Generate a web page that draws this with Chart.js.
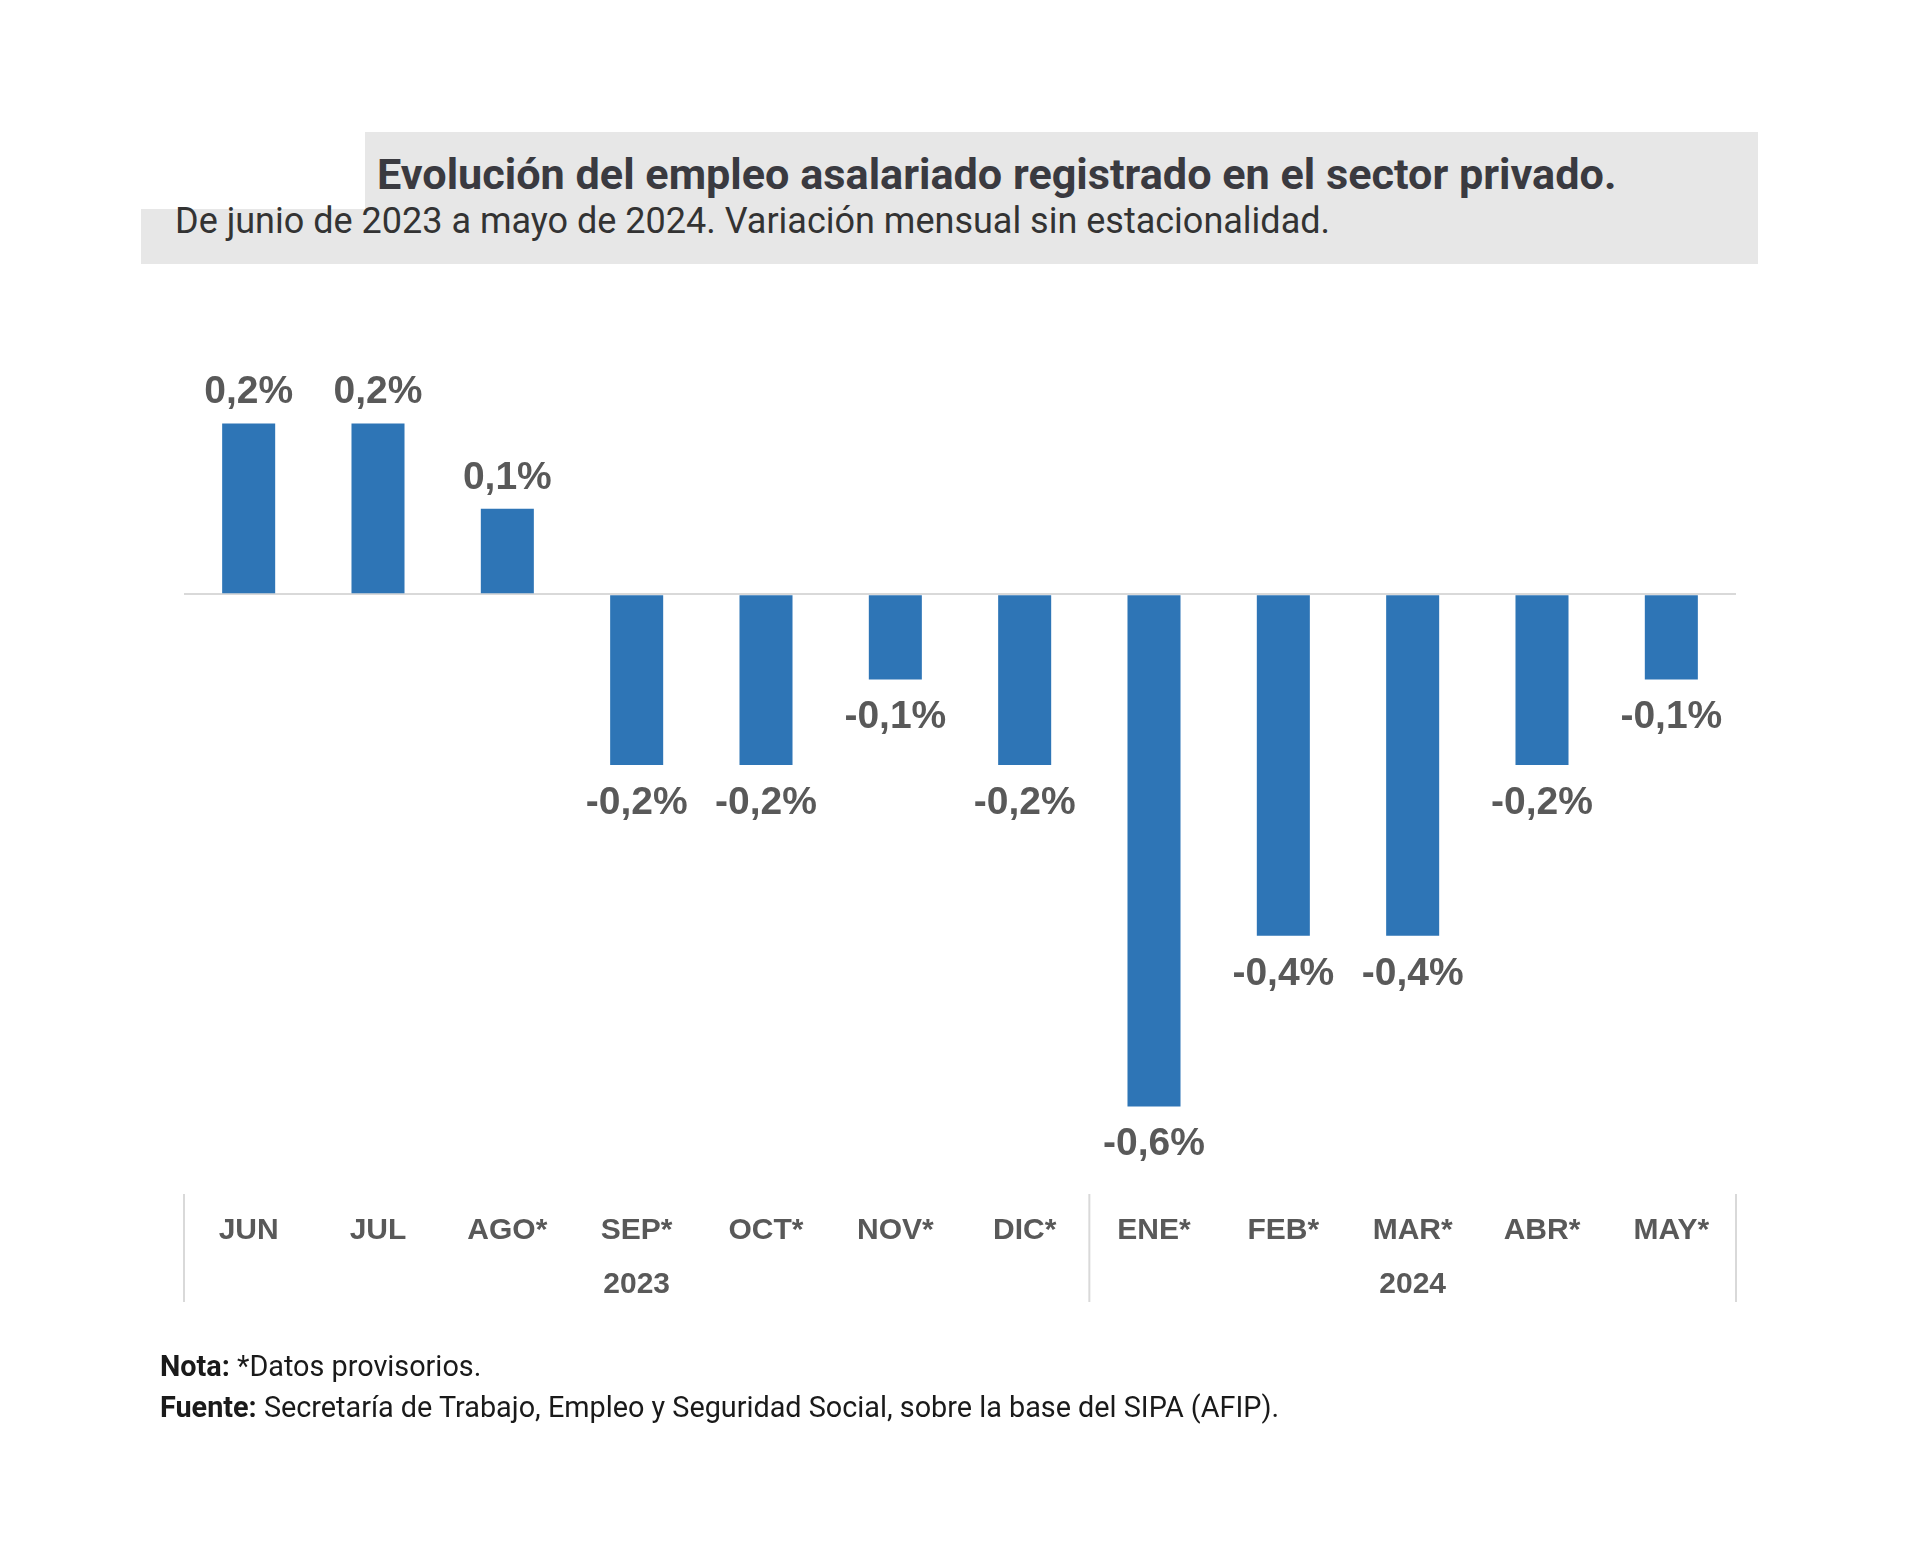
<!DOCTYPE html>
<html>
<head>
<meta charset="utf-8">
<script src="https://cdn.jsdelivr.net/npm/chart.js@4/dist/chart.umd.min.js"></script>
<style>
    body { margin: 0; background: #fff; }
    #pagina { position: relative; width: 1920px; height: 1547px; overflow: hidden; }
    .caja { position: absolute; background: #e7e7e7; }
    .texto { position: absolute; white-space: nowrap; font-family: Roboto, sans-serif; line-height: 1; }
    #grafico { position: absolute; left: 0; top: 0; }
</style>
</head>
<body>
<div id="pagina">
    <div class="caja" style="left:365px; top:132px; width:1393px; height:132px;"></div>
    <div class="caja" style="left:141px; top:209px; width:230px; height:55px;"></div>
    <div class="texto" id="titulo" style="left:377px; top:153px; font-size:43.2px; font-weight:700; color:#3a3a40;">Evolución del empleo asalariado registrado en el sector privado.</div>
    <div class="texto" id="subtitulo" style="left:175px; top:203px; font-size:36px; color:#333;">De junio de 2023 a mayo de 2024. Variación mensual sin estacionalidad.</div>
    <canvas id="grafico" width="1920" height="1547"></canvas>
    <div class="texto" style="left:160px; top:1352px; font-size:28.8px; color:#1a1a1a;"><b>Nota:</b> *Datos provisorios.</div>
    <div class="texto" style="left:160px; top:1393px; font-size:28.8px; color:#1a1a1a;"><b>Fuente:</b> Secretaría de Trabajo, Empleo y Seguridad Social, sobre la base del SIPA (AFIP).</div>
</div>
<script>
var meses = ['JUN', 'JUL', 'AGO*', 'SEP*', 'OCT*', 'NOV*', 'DIC*', 'ENE*', 'FEB*', 'MAR*', 'ABR*', 'MAY*']
var variacion = [0.2, 0.2, 0.1, -0.2, -0.2, -0.1, -0.2, -0.6, -0.4, -0.4, -0.2, -0.1]
var anios = ['2023', '2024']
var inicioAnio = [0, 7]
var finAnio = [6, 11]

var corBarra = '#2E75B6'
var corTexto = '#595959'
var corLinha = '#d9d9d9'
var fonteEixo = '"Liberation Sans", Arial, sans-serif'

function formatarValor(v){
    return v.toFixed(1).replace('.', ',') + '%'
}

var pluginRotulos = {
    id: 'rotulos',
    afterDatasetsDraw: function(chart){
        var ctx = chart.ctx
        var meta = chart.getDatasetMeta(0)
        ctx.save()
        ctx.font = 'bold 39px ' + fonteEixo
        ctx.fillStyle = corTexto
        ctx.textAlign = 'center'
        ctx.textBaseline = 'middle'
        meta.data.forEach(function(barra, i){
            var v = variacion[i]
            var y = v >= 0 ? barra.y - 31 : barra.y + 38
            ctx.fillText(formatarValor(v), barra.x, y)
        })
        ctx.restore()
    },
    afterDraw: function(chart){
        var ctx = chart.ctx
        var x = chart.scales.x
        var topo = chart.chartArea.bottom + 2
        var baixo = x.bottom
        var separadores = [x.left, (x.getPixelForValue(6) + x.getPixelForValue(7)) / 2, x.right]
        ctx.save()
        ctx.strokeStyle = corLinha
        ctx.lineWidth = 2
        separadores.forEach(function(px){
            ctx.beginPath()
            ctx.moveTo(px, topo)
            ctx.lineTo(px, baixo)
            ctx.stroke()
        })
        ctx.font = 'bold 30px ' + fonteEixo
        ctx.fillStyle = corTexto
        ctx.textAlign = 'center'
        ctx.textBaseline = 'middle'
        anios.forEach(function(anio, i){
            var px = (x.getPixelForValue(inicioAnio[i]) + x.getPixelForValue(finAnio[i])) / 2
            ctx.fillText(anio, px, 1285)
        })
        ctx.restore()
    }
}

var dados = {
    labels: meses,
    datasets: [{
        label: 'Variación mensual',
        data: variacion,
        backgroundColor: corBarra,
        borderWidth: 0,
        barPercentage: 0.41,
        categoryPercentage: 1
    }]
}

var config = {
    type: 'bar',
    data: dados,
    options: {
        responsive: false,
        animation: false,
        layout: {
            padding: { left: 184, right: 184, top: 338, bottom: 245 }
        },
        plugins: {
            legend: { display: false },
            title: { display: false },
            tooltip: { enabled: false }
        },
        scales: {
            x: {
                grid: { display: false, drawTicks: false },
                border: { display: false },
                ticks: {
                    color: corTexto,
                    font: { family: fonteEixo, size: 30, weight: 'bold' },
                    padding: 21,
                    maxRotation: 0
                },
                afterFit: function(escala){ escala.height = 110 }
            },
            y: {
                min: -0.7,
                max: 0.3,
                grid: {
                    drawTicks: false,
                    lineWidth: 2,
                    color: function(c){
                        return Math.abs(c.tick.value) < 1e-9 ? corLinha : 'rgba(0,0,0,0)'
                    }
                },
                border: { display: false },
                ticks: { display: false, stepSize: 0.1 },
                afterFit: function(escala){ escala.width = 0 }
            }
        }
    },
    plugins: [pluginRotulos]
}

var grafico = new Chart(document.getElementById('grafico'), config)
</script>
</body>
</html>
